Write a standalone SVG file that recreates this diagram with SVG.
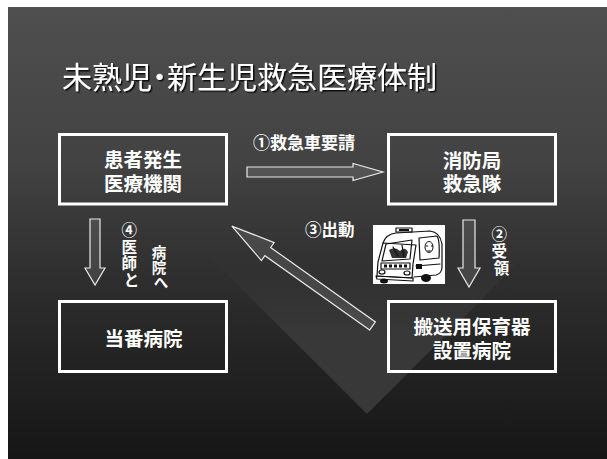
<svg xmlns="http://www.w3.org/2000/svg" width="607" height="459" viewBox="0 0 607 459">
  <defs>
    <linearGradient id="slideBg" x1="0" y1="0" x2="0" y2="1">
      <stop offset="0" stop-color="#4f4f4f"/>
      <stop offset="0.35" stop-color="#424242"/>
      <stop offset="0.6" stop-color="#2e2e2e"/>
      <stop offset="1" stop-color="#161616"/>
    </linearGradient>
    <linearGradient id="wedge" x1="0" y1="250" x2="0" y2="330" gradientUnits="userSpaceOnUse">
      <stop offset="0" stop-color="#383838" stop-opacity="0"/>
      <stop offset="1" stop-color="#383838" stop-opacity="1"/>
    </linearGradient>
    <filter id="shadow" x="-5%" y="-20%" width="110%" height="140%">
      <feDropShadow dx="1.5" dy="1.5" stdDeviation="0.6" flood-color="#000" flood-opacity="0.8"/>
    </filter>
    <style>
      .cjk { font-family: "Liberation Sans", "Noto Sans CJK JP", sans-serif; fill: #ffffff; }
      .title { font-size: 30px; font-weight: normal; font-feature-settings: "palt" 1; }
      .boxtext { font-size: 19.5px; font-weight: bold; text-anchor: middle; }
      .label { font-size: 16.5px; font-weight: bold; }
      .vlabel { font-size: 15.5px; font-weight: bold; text-anchor: middle; }
      .vlabel-sm { font-size: 14.5px; font-weight: bold; text-anchor: middle; }
      .box { fill: none; stroke: #ffffff; stroke-width: 3; }
      .arrow { fill: #ffffff; fill-opacity: 0.1; stroke: #e8e8e8; stroke-width: 1.2; stroke-linejoin: miter; }
      .ink { fill: none; stroke: #111; stroke-width: 1.2; stroke-linejoin: round; stroke-linecap: round; }
    </style>
  </defs>

  <!-- page and slide background -->
  <rect x="0" y="0" width="607" height="459" fill="#ffffff"/>
  <rect x="8" y="7" width="599" height="452" fill="url(#slideBg)"/>
  <!-- lighter wedge behind the diagonal arrow -->
  <polygon points="367,414 210,257 367,100 524,257" fill="url(#wedge)"/>

  <!-- title -->
  <text class="cjk title" x="62" y="88" filter="url(#shadow)">未熟児・新生児救急医療体制</text>

  <!-- nodes -->
  <g id="node-patient">
    <rect class="box" x="59.5" y="134.5" width="167" height="69.5"/>
    <text class="cjk boxtext" x="143" y="167">患者発生</text>
    <text class="cjk boxtext" x="143" y="191">医療機関</text>
  </g>
  <g id="node-fire">
    <rect class="box" x="388.5" y="134.5" width="167" height="69.5"/>
    <text class="cjk boxtext" x="472" y="167.5">消防局</text>
    <text class="cjk boxtext" x="472" y="191">救急隊</text>
  </g>
  <g id="node-duty">
    <rect class="box" x="59.5" y="301.5" width="167" height="70"/>
    <text class="cjk boxtext" x="143.5" y="346">当番病院</text>
  </g>
  <g id="node-incubator">
    <rect class="box" x="388.5" y="301.5" width="167" height="70"/>
    <text class="cjk boxtext" x="472" y="334">搬送用保育器</text>
    <text class="cjk boxtext" x="472" y="357.5">設置病院</text>
  </g>

  <!-- connectors -->
  <g id="connectors">
    <path class="arrow" d="M247,167 H353 V163.5 L383,172 L353,180.5 V177 H247 Z"/>
    <path class="arrow" d="M463,220 H475 V268 H480 L469,287 L458,268 H463 Z"/>
    <path class="arrow" d="M90,219 H100 V268 H105 L95,285 L85,268 H90 Z"/>
    <path class="arrow" transform="translate(372.5,326) rotate(215.4)" d="M0,-5 H128.5 V-11 L172.5,0 L128.5,11 V5 H0 Z"/>

    <text class="cjk label" x="253" y="149" style="font-size:17px">①救急車要請</text>
    <text class="cjk label" x="305" y="236">③出動</text>
    <text class="cjk vlabel">
      <tspan x="501.5" y="240">②</tspan>
      <tspan x="501.5" y="257">受</tspan>
      <tspan x="501.5" y="274">領</tspan>
    </text>
    <text class="cjk vlabel">
      <tspan x="131.5" y="236">④</tspan>
      <tspan x="131.5" y="252.5">医</tspan>
      <tspan x="131.5" y="269">師</tspan>
      <tspan x="131.5" y="285.5">と</tspan>
    </text>
    <text class="cjk vlabel-sm">
      <tspan x="161" y="258">病</tspan>
      <tspan x="161" y="273">院</tspan>
      <tspan x="161" y="288">へ</tspan>
    </text>
  </g>

  <!-- ambulance illustration -->
  <g id="ambulance">
    <rect x="373" y="225" width="72" height="59" fill="#ffffff"/>
    <!-- light bar -->
    <rect class="ink" x="396" y="228" width="16" height="4"/>
    <rect x="399" y="229" width="10" height="2" fill="#111"/>
    <!-- body outline -->
    <path class="ink" d="M383,243 Q386,234 396,233 L430,231 Q440,232 442,244 L442,268 Q441,274 436,275 L414,277"/>
    <path class="ink" d="M383,243 L378,262 L377,276 L412,278 L413,264 L416,245 Z"/>
    <!-- windshield with crew -->
    <path class="ink" d="M386,244 L412,240 L410,259 L382,261 Z"/>
    <path d="M389,250 Q395,246 400,251 Q405,246 408,252 L406,258 L392,258 Z" fill="#333"/>
    <path class="ink" d="M393,247 L398,256 M402,245 L404,257"/>
    <!-- side window with person -->
    <path class="ink" d="M419,238 L437,236 Q440,240 439,258 L420,260 Z"/>
    <ellipse cx="429" cy="247" rx="4" ry="5.5" fill="#ffffff" stroke="#111" stroke-width="1"/>
    <path d="M426,246 h2 M431,246 h2 M427,251 h4" stroke="#111" stroke-width="1"/>
    <!-- grille with lettering blocks -->
    <rect class="ink" x="381" y="263" width="29" height="6"/>
    <path d="M384,264.5 h3 v3 h-3z M389,264.5 h3 v3 h-3z M394,264.5 h3 v3 h-3z M399,264.5 h3 v3 h-3z M404,264.5 h3 v3 h-3z" fill="#111"/>
    <!-- headlights and bumper -->
    <ellipse class="ink" cx="382" cy="272" rx="3" ry="2"/>
    <ellipse class="ink" cx="407" cy="273" rx="3" ry="2"/>
    <path class="ink" d="M376,276 L413,278 L413,281 L377,279 Z"/>
    <!-- wheels -->
    <ellipse cx="384" cy="281" rx="4" ry="2.5" fill="#111"/>
    <ellipse cx="426" cy="278" rx="5" ry="4" fill="#111"/>
    <path class="ink" d="M416,266 L440,264"/>
    <rect x="416" y="264" width="6" height="5" fill="#111"/>
  </g>
</svg>
